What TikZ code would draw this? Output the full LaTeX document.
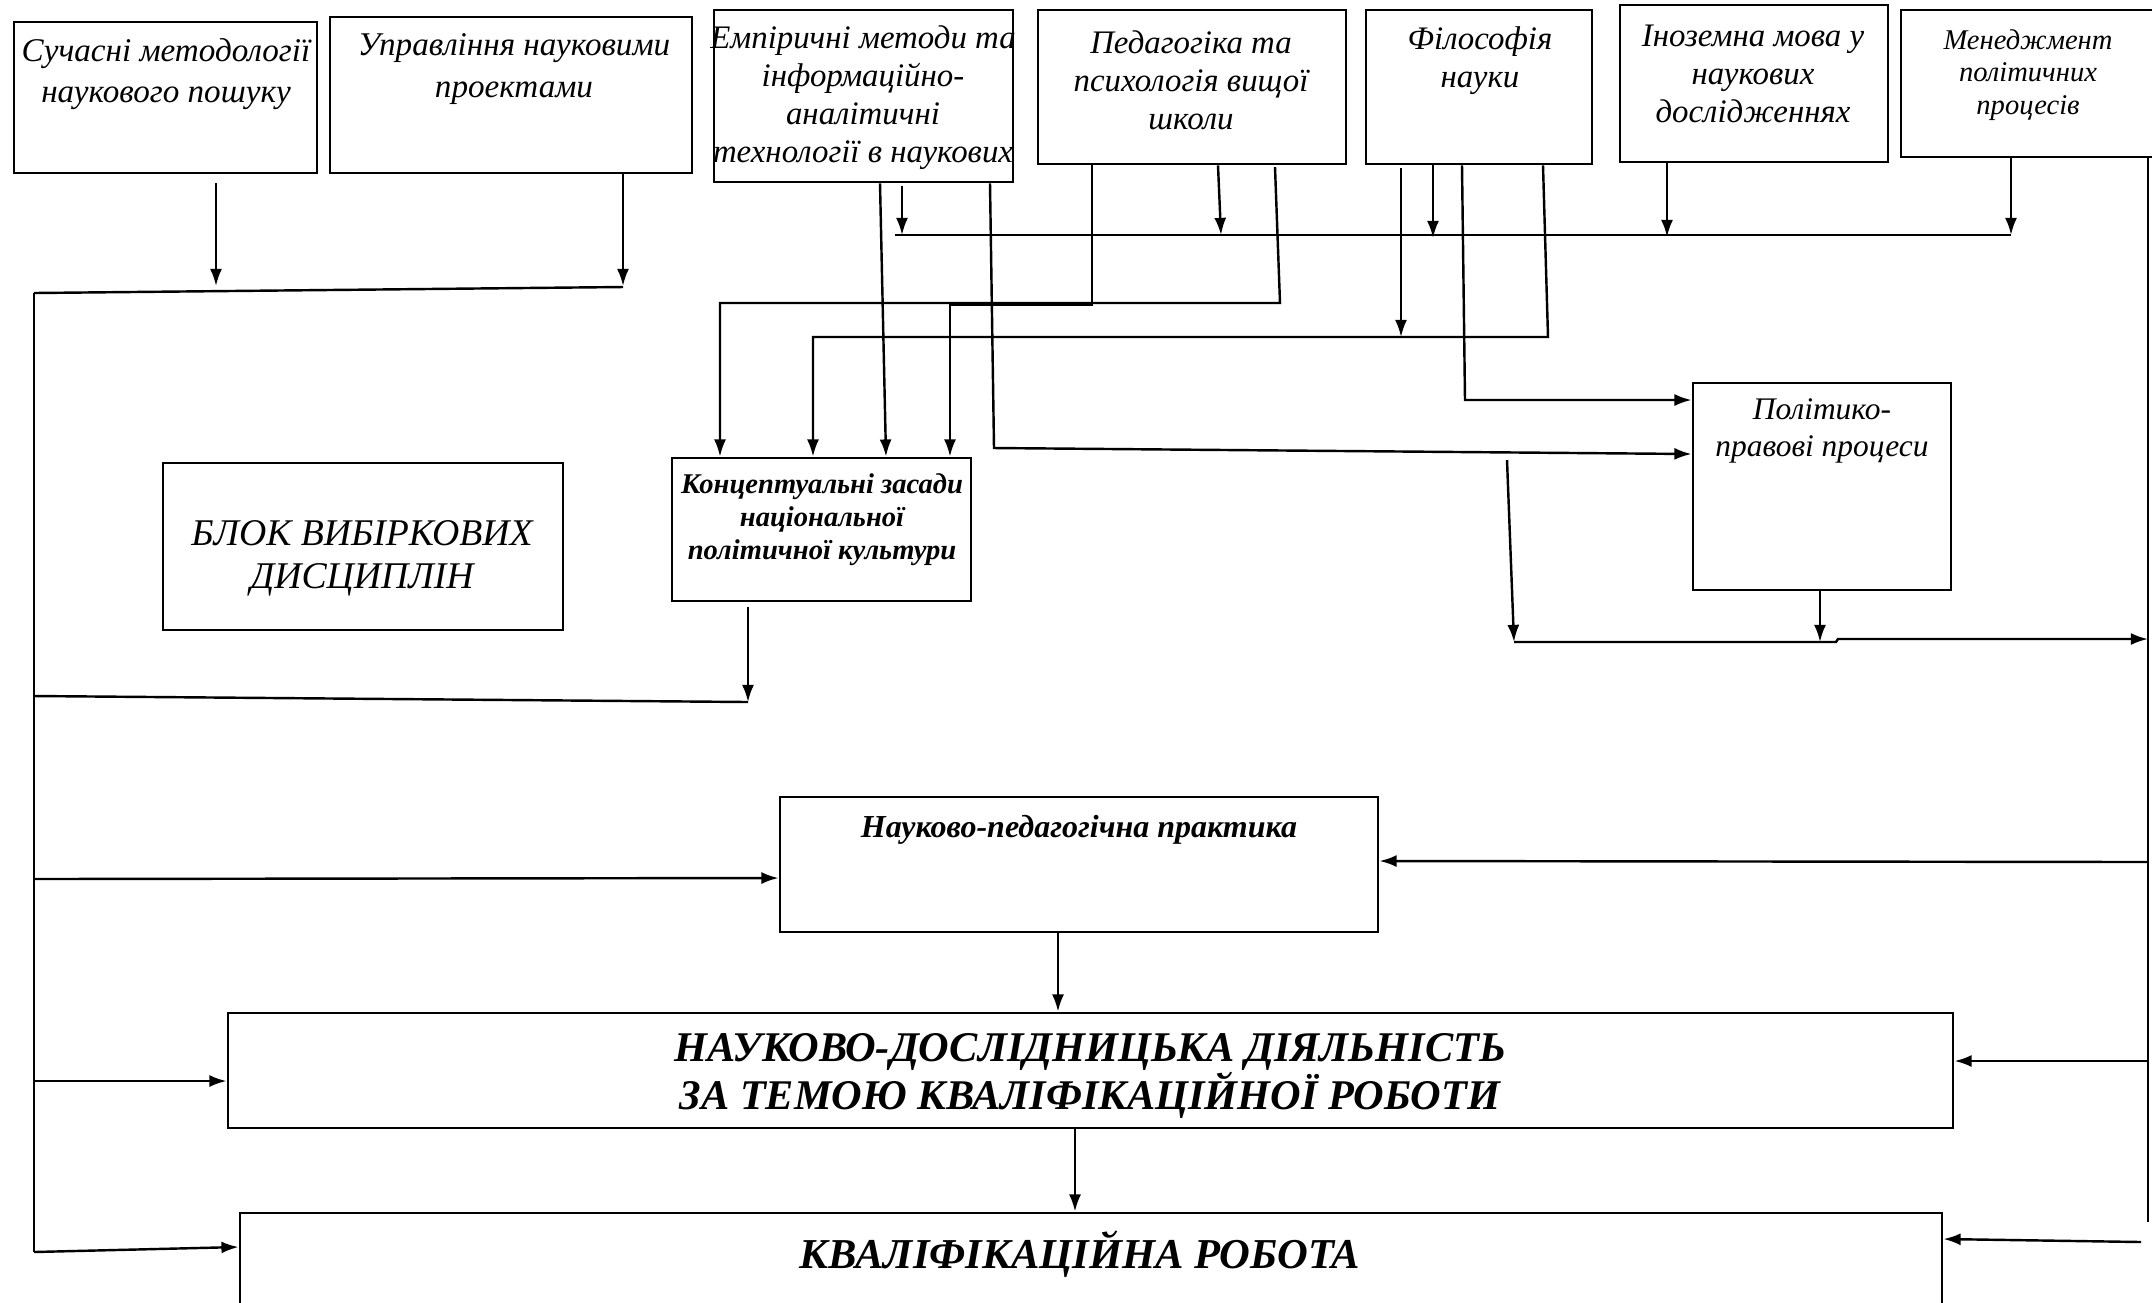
\documentclass[tikz,border=0pt]{standalone}
\usepackage{fontspec}
\setmainfont{Liberation Serif}
\usetikzlibrary{arrows.meta,fit}

\tikzset{
  box/.style={draw,line width=1pt,inner sep=0pt},
  lbl/.style={inner sep=0pt,align=center,font=\itshape\fontsize{11.5}{13.3}\selectfont},
  ln/.style={line width=0.85pt},
  arr/.style={line width=0.85pt,-{Latex[length=6pt,width=4.2pt]}},
}

\begin{document}
\begin{tikzpicture}[x=0.35pt,y=0.35pt,yscale=-1]
\useasboundingbox (0,0) rectangle (2152,1302);
\clip (0,0) rectangle (2152,1302);

%Shape: Rectangle [top row]
\node[box,fit={(14,22) (317,173)}] (sm) {};
\node[box,fit={(330,17) (692,173)}] (up) {};
\node[box,fit={(714,10) (1013,182)}] (em) {};
\node[box,fit={(1038,10) (1346,164)}] (ped) {};
\node[box,fit={(1366,10) (1592,164)}] (fil) {};
\node[box,fit={(1620,5) (1888,162)}] (inm) {};
\node[box,fit={(1901,10) (2162,157)}] (men) {};
%Shape: Rectangle [middle]
\node[box,fit={(163,463) (563,630)}] (blok) {};
\node[box,fit={(672,458) (971,601)}] (kon) {};
\node[box,fit={(1693,383) (1951,590)}] (pol) {};
%Shape: Rectangle [bottom]
\node[box,fit={(780,797) (1378,932)}] (prak) {};
\node[box,fit={(228,1013) (1953,1128)}] (nd) {};
\node[box,fit={(240,1213) (1942,1320)}] (kr) {};

% Text Node
\node[lbl,font=\itshape\fontsize{11.6}{14.5}\selectfont] (sm-t) at (166,74) {Сучасні методології\\наукового пошуку};
% Text Node
\node[lbl,font=\itshape\fontsize{11.6}{14.5}\selectfont] (up-t) at (514,69) {Управління науковими\\проектами};
% Text Node
\node[lbl] (em-t) at (863,98) {Емпіричні методи та\\інформаційно-\\аналітичні\\технології в наукових};
% Text Node
\node[lbl] (ped-t) at (1191,80) {Педагогіка та\\психологія вищої\\школи};
% Text Node
\node[lbl] (fil-t) at (1480,61) {Філософія\\науки};
% Text Node
\node[lbl] (inm-t) at (1753,74) {Іноземна мова у\\наукових\\дослідженнях};
% Text Node
\node[lbl,font=\itshape\fontsize{10}{11.5}\selectfont] (men-t) at (2028,75) {Менеджмент\\політичних\\процесів};
% Text Node
\node[lbl,font=\itshape\fontsize{13.2}{15}\selectfont] (blok-t) at (362,558) {БЛОК ВИБІРКОВИХ\\ДИСЦИПЛІН};
% Text Node
\node[lbl,font=\bfseries\itshape\fontsize{10}{11.5}\selectfont] (kon-t) at (822,520) {Концептуальні засади\\національної\\політичної культури};
% Text Node
\node[lbl,font=\itshape\fontsize{11}{13}\selectfont] (pol-t) at (1822,431) {Політико-\\правові процеси};
% Text Node
\node[lbl,font=\bfseries\itshape\fontsize{11.2}{14}\selectfont] (prak-t) at (1079,830) {Науково-педагогічна практика};
% Text Node
\node[lbl,font=\bfseries\itshape\fontsize{14.8}{16.8}\selectfont] (nd-t) at (1090,1076) {НАУКОВО-ДОСЛІДНИЦЬКА ДІЯЛЬНІСТЬ\\ЗА ТЕМОЮ КВАЛІФІКАЦІЙНОЇ РОБОТИ};
% Text Node
\node[lbl,font=\bfseries\itshape\fontsize{14.9}{16.8}\selectfont] (kr-t) at (1080,1254) {КВАЛІФІКАЦІЙНА РОБОТА};

%Straight Lines [left bus and trunk]
\coordinate (lb) at (34,293);
\draw[arr] (216,183) -- (216,286);
\draw[arr] (up.south -| 623,0) -- (623,286);
\draw[ln] (lb) -- (623,287);
\draw[ln] (lb) -- (34,1252);
\draw[arr] (34,1252) -- (kr.west |- 0,1247);
\draw[arr] (34,879) -- (prak.west |- 0,878);
\draw[arr] (34,1081) -- (nd.west |- 0,1081);
\draw[arr] (748,607) -- (748,702);
\draw[ln] (34,696) -- (748,702);

%Straight Lines [top bus]
\draw[ln] (895,235) -- (2011,235);
\draw[arr] (902,186) -- (902,235);
\draw[arr] (ped.south -| 1218,0) -- (1221,235);
\draw[arr] (fil.south -| 1433,0) -- (1433,238);
\draw[arr] (inm.south -| 1667,0) -- (1667,237);
\draw[arr] (men.south -| 2011,0) -- (2011,235);

%Straight Lines [into kon]
\draw[arr] (em.south -| 880,0) -- (kon.north -| 886,0);
\draw[arr] (ped.south -| 1092,0) -- (1092,305) -- (950,305) -- (kon.north -| 950,0);
\draw[arr] (1275,167) -- (1280,303) -- (720,303) -- (kon.north -| 720,0);
\draw[arr] (fil.south -| 1543,0) -- (1548,337) -- (813,337) -- (kon.north -| 813,0);
\draw[arr] (1401,168) -- (1401,337);

%Straight Lines [into pol]
\draw[arr] (em.south -| 990,0) -- (994,448) -- (pol.west |- 0,454);
\draw[arr] (fil.south -| 1462,0) -- (1465,400) -- (pol.west |- 0,400);

%Straight Lines [below pol]
\draw[arr] (1507,460) -- (1514,642);
\draw[arr] (pol.south -| 1820,0) -- (1820,642);
\draw[arr] (1514,642) -- (1836,642) -- (1838,639) -- (2148,639);

%Straight Lines [right trunk]
\draw[ln] (men.south -| 2148,0) -- (2148,1222);
\draw[arr] (2148,862) -- (prak.east |- 0,861);
\draw[arr] (2148,1061) -- (nd.east |- 0,1061);
\draw[arr] (2141,1242) -- (kr.east |- 0,1239);

%Straight Lines [centre column]
\draw[arr] (prak.south -| 1058,0) -- (nd.north -| 1058,0);
\draw[arr] (nd.south -| 1075,0) -- (kr.north -| 1075,0);

\end{tikzpicture}
\end{document}
